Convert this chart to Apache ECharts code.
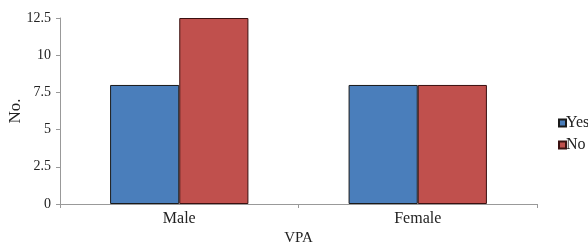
<!DOCTYPE html>
<html><head><meta charset="utf-8">
<script src="https://cdn.jsdelivr.net/npm/echarts@6/dist/echarts.min.js"></script>
<style>html,body{margin:0;padding:0;background:#fff}#c{width:588px;height:248px}</style>
</head><body><div id="c"></div>
<script>
const categories = ['Male', 'Female'];
const yesValues = [8, 8];
const noValues = [12.5, 8];
const yTicks = [0, 2.5, 5, 7.5, 10, 12.5];

const font = 'Liberation Serif';
const chart = echarts.init(document.getElementById('c'), null, {renderer: 'canvas'});
chart.setOption({
  animation: false,
  textStyle: {fontFamily: font},
  grid: {left: 60, right: 51, top: 18, bottom: 44, containLabel: false, outerBoundsMode: 'none'},
  legend: {
    orient: 'vertical', left: 553, top: 110,
    icon: 'rect',
    itemWidth: 7, itemHeight: 7, itemGap: 6,
    textStyle: {fontFamily: font, fontSize: 16, color: '#222', padding: [0,0,0,-5]},
    data: ['Yes', 'No']
  },
  xAxis: {
    type: 'category', data: categories,
    name: 'VPA', nameLocation: 'middle', nameGap: 27, nameMoveOverlap: false,
    nameTextStyle: {fontFamily: font, fontSize: 15, color: '#222'},
    axisLine: {lineStyle: {color: '#999'}},
    axisTick: {show: true, length: 4, lineStyle: {color: '#999'}},
    axisLabel: {fontFamily: font, fontSize: 16, color: '#222', margin: 7}
  },
  yAxis: {
    type: 'value', min: 0, max: 12.5, interval: 2.5,
    name: 'No.', nameLocation: 'middle', nameGap: 36, nameRotate: 90, nameMoveOverlap: false,
    nameTextStyle: {fontFamily: font, fontSize: 17, color: '#222'},
    axisLine: {show: true, lineStyle: {color: '#999'}},
    axisTick: {show: true, length: 4, lineStyle: {color: '#999'}},
    splitLine: {show: false},
    axisLabel: {fontFamily: font, fontSize: 14, color: '#222', margin: 9,
      formatter: v => yTicks.includes(v) ? String(v) : ''}
  },
  series: [
    {name: 'Yes', type: 'bar', data: yesValues, barGap: '0%', barCategoryGap: '42%',
     itemStyle: {color: '#4a7ebb', borderColor: '#1a1a1a', borderWidth: 1}},
    {name: 'No', type: 'bar', data: noValues,
     itemStyle: {color: '#c0504d', borderColor: '#3a1010', borderWidth: 1}}
  ]
});
</script></body></html>
